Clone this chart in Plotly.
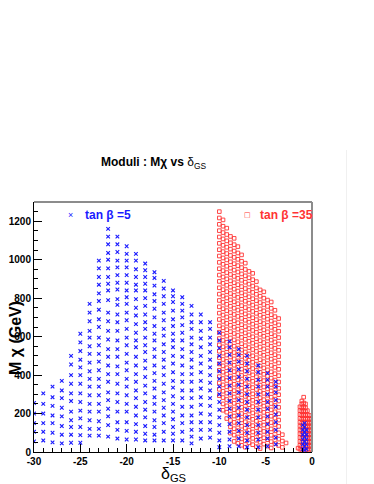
import plotly.graph_objects as go

# ---------------- data ----------------
# tan beta = 5 : columns of points (x position, list of M_chi values in GeV)
blue_cols_x = [-30, -29, -28, -27, -26, -25, -24, -23, -22, -21, -20, -19, -18, -17,
               -16, -15, -14, -13, -12, -11, -10, -8.9, -7.9, -7.0, -5.8, -4.8, -3.9,
               -1.0, -0.8, -0.6]
blue_cols_y = [
    [55, 105, 150, 200, 255],
    [60, 105, 150, 200, 250, 305],
    [50, 100, 150, 190, 240, 285, 340],
    [45, 90, 135, 185, 230, 280, 320, 370],
    [48, 90, 130, 165, 210, 265, 305, 355, 400, 455, 500],
    [48, 88, 130, 175, 215, 260, 305, 355, 400, 440, 480, 525, 570, 615],
    [85, 120, 165, 210, 250, 295, 340, 380, 420, 465, 510, 550, 595, 630, 680, 725, 770],
    [85, 120, 160, 210, 250, 295, 340, 380, 425, 470, 510, 555, 595, 650, 690, 740, 785,
     825, 870, 910, 955, 995],
    [80, 140, 185, 225, 270, 310, 365, 405, 450, 495, 535, 585, 630, 680, 725, 790, 840,
     875, 910, 955, 1000, 1035, 1080, 1120, 1160],
    [70, 115, 155, 210, 260, 305, 355, 405, 445, 495, 535, 580, 630, 675, 715, 765, 795,
     845, 880, 920, 960, 995, 1040, 1080, 1120],
    [65, 110, 155, 210, 250, 295, 340, 380, 425, 465, 510, 555, 595, 640, 685, 725, 770,
     805, 840, 880, 920, 960, 995, 1030, 1070],
    [65, 105, 145, 190, 235, 280, 320, 365, 405, 450, 495, 545, 580, 620, 665, 710, 750,
     795, 840, 870, 910, 950, 995, 1030],
    [60, 95, 135, 180, 220, 260, 305, 345, 390, 435, 475, 520, 555, 595, 640, 675, 715,
     760, 800, 840, 875, 910, 945, 980],
    [60, 90, 130, 165, 210, 250, 285, 330, 370, 410, 450, 495, 535, 580, 615, 655, 700,
     745, 785, 820, 865, 905, 935],
    [60, 105, 150, 190, 230, 270, 310, 355, 400, 440, 480, 520, 560, 605, 640, 685, 725,
     770, 810, 850, 890],
    [60, 95, 130, 170, 210, 250, 290, 335, 370, 415, 460, 500, 545, 580, 615, 655, 690,
     735, 780, 810, 840],
    [60, 105, 150, 190, 235, 280, 320, 365, 405, 450, 495, 535, 580, 620, 660, 700, 735,
     770, 805],
    [45, 80, 115, 155, 190, 235, 280, 320, 365, 405, 440, 480, 520, 560, 595, 640, 675,
     715, 760],
    [70, 115, 155, 200, 245, 285, 330, 370, 415, 460, 500, 545, 590, 630, 675, 715],
    [75, 115, 155, 195, 240, 280, 320, 360, 400, 440, 480, 520, 560, 595, 640, 675],
    [25, 60, 100, 140, 180, 220, 260, 300, 340, 380, 420, 460, 500, 540, 580, 620],
    [30, 65, 105, 145, 185, 225, 265, 305, 345, 385, 425, 465, 505, 545, 575],
    [30, 70, 110, 150, 190, 230, 270, 310, 350, 390, 430, 470, 505, 535],
    [25, 60, 100, 140, 180, 220, 260, 300, 340, 380, 420, 460, 500],
    [25, 65, 100, 140, 180, 220, 260, 300, 340, 375, 415, 450],
    [30, 70, 105, 145, 185, 225, 260, 300, 340, 375, 410],
    [40, 75, 115, 155, 195, 235, 270, 310, 340, 365],
    [15, 40, 65, 90, 115, 140],
    [10, 30, 55, 80, 105, 130, 150],
    [15, 40, 65, 90, 115],
]

# tan beta = 35 : diagonal bands of points on a grid of delta_GS values
red_grid_x = [-10.0, -9.6, -9.2, -8.8, -8.4, -8.0, -7.6, -7.2, -6.8, -6.4, -6.0, -5.6,
              -5.2, -4.8, -4.4, -4.0, -3.6, -3.2, -2.8]
red_band_start = [0, 0, 0, 0, 0, 0, 0, 0, 0, 0, 0, 0, 0, 0, 0, 0, 0, 0, 0, 0, 0, 0, 0,
                  0, 0, 0, 0, 0, 0, 0, 1, 1, 2, 3, 3, 4]
red_band_y = [
    [1250],
    [1217, 1207],
    [1184, 1174, 1164],
    [1151, 1141, 1131, 1121, 1111],
    [1118, 1108, 1098, 1088, 1078, 1068],
    [1085, 1075, 1065, 1055, 1045, 1035, 1025],
    [1052, 1042, 1032, 1022, 1012, 1002, 992, 982],
    [1019, 1009, 999, 989, 979, 969, 959, 949, 939, 929],
    [986, 976, 966, 956, 946, 936, 926, 916, 906, 896, 886],
    [953, 943, 933, 923, 913, 903, 893, 883, 873, 863, 853, 843, 833],
    [920, 910, 900, 890, 880, 870, 860, 850, 840, 830, 820, 810, 800, 790, 780],
    [887, 877, 867, 857, 847, 837, 827, 817, 807, 797, 787, 777, 767, 757, 747, 737],
    [854, 844, 834, 824, 814, 804, 794, 784, 774, 764, 754, 744, 734, 724, 714, 704, 694],
    [821, 811, 801, 791, 781, 771, 761, 751, 741, 731, 721, 711, 701, 691, 681, 671, 661],
    [788, 778, 768, 758, 748, 738, 728, 718, 708, 698, 688, 678, 668, 658, 648, 638, 628],
    [755, 745, 735, 725, 715, 705, 695, 685, 675, 665, 655, 645, 635, 625, 615, 605, 595],
    [722, 712, 702, 692, 682, 672, 662, 652, 642, 632, 622, 612, 602, 592, 582, 572, 562],
    [689, 679, 669, 659, 649, 639, 629, 619, 609, 599, 589, 579, 569, 559, 549, 539, 529],
    [656, 646, 636, 626, 616, 606, 596, 586, 576, 566, 556, 546, 536, 526, 516, 506, 496],
    [623, 613, 603, 593, 583, 573, 563, 553, 543, 533, 523, 513, 503, 493, 483, 473, 463],
    [590, 580, 570, 560, 550, 540, 530, 520, 510, 500, 490, 480, 470, 460, 450, 440, 430],
    [557, 547, 537, 527, 517, 507, 497, 487, 477, 467, 457, 447, 437, 427, 417, 407, 397],
    [524, 514, 504, 494, 484, 474, 464, 454, 444, 434, 424, 414, 404, 394, 384, 374, 364],
    [491, 481, 471, 461, 451, 441, 431, 421, 411, 401, 391, 381, 371, 361, 351, 341, 331],
    [458, 448, 438, 428, 418, 408, 398, 388, 378, 368, 358, 348, 338, 328, 318, 308, 298],
    [425, 415, 405, 395, 385, 375, 365, 355, 345, 335, 325, 315, 305, 295, 285, 275, 265],
    [392, 382, 372, 362, 352, 342, 332, 322, 312, 302, 292, 282, 272, 262, 252, 242, 232],
    [359, 349, 339, 329, 319, 309, 299, 289, 279, 269, 259, 249, 239, 229, 219, 209, 199],
    [326, 316, 306, 296, 286, 276, 266, 256, 246, 236, 226, 216, 206, 196, 186, 176, 166],
    [293, 283, 273, 263, 253, 243, 233, 223, 213, 203, 193, 183, 173, 163, 153, 143, 133],
    [250, 240, 230, 220, 210, 200, 190, 180, 170, 160, 150, 140, 130, 120, 110, 100, 90],
    [217, 207, 197, 187, 177, 167, 157, 147, 137, 127, 117, 107, 97, 87, 77, 67, 57, 47],
    [174, 164, 154, 144, 134, 124, 114, 104, 94, 84, 74, 64, 54, 44, 34, 24],
    [131, 121, 111, 101, 91, 81, 71, 61, 51, 41, 31, 21],
    [98, 88, 78, 68, 58, 48, 38, 28, 18],
    [55, 45, 35, 25],
]
# tan beta = 35 : cluster close to delta_GS = 0
red_zero_x = [-1.5, -1.3, -1.1, -0.9, -0.7, -0.5, -0.3, -0.1]
red_zero_y = [
    [20],
    [15, 35, 55, 75, 95, 115, 135, 155, 175, 195, 215, 235],
    [10, 30, 50, 70, 90, 110, 130, 150, 170, 190, 210, 230, 250, 265],
    [15, 35, 55, 75, 95, 115, 135, 155, 175, 195, 215, 235, 255, 285],
    [10, 30, 50, 70, 90, 110, 130, 150, 170, 190, 210, 230, 250],
    [15, 35, 55, 75, 95, 115, 135, 155, 175, 195, 215],
    [10, 30, 50, 70, 90, 110, 130, 150, 170, 190],
    [15, 35, 55, 75, 95, 115, 135, 155, 175],
]

x_ticks = [-30, -25, -20, -15, -10, -5, 0]
y_ticks = [0, 200, 400, 600, 800, 1000, 1200]
series_labels = ["tan β =5", "tan β =35"]

# ---------------- assemble ----------------
bx, by = [], []
for x, ys in zip(blue_cols_x, blue_cols_y):
    bx += [x] * len(ys)
    by += ys

rx, ry = [], []
for s, ys in zip(red_band_start, red_band_y):
    rx += red_grid_x[s:s + len(ys)]
    ry += ys
for x, ys in zip(red_zero_x, red_zero_y):
    rx += [x] * len(ys)
    ry += ys

FONT = "Liberation Sans, Arial, Helvetica, sans-serif"
BLUE = "#1a1aff"
RED = "#ff3333"

# the page body has an 8px margin: lay the figure out in screen pixels minus 8
OFF = 8
W, H = 374 - OFF, 484 - OFF
PL, PR, PT, PB = 34, 312, 202, 452          # plot box in screen pixels
L, T = PL - OFF, PT - OFF
R, B = W - (PR - OFF), H - (PB - OFF)
pw, ph = PR - PL, PB - PT


def px2paper_x(p):
    return (p - PL) / pw


def px2paper_y(p):
    return (PB - p) / ph


fig = go.Figure()
fig.add_trace(go.Scatter(
    x=rx, y=ry, mode="markers", name=series_labels[1], showlegend=False,
    marker=dict(symbol="square-open", size=3.6, color=RED,
                line=dict(width=0.9, color=RED)),
))
fig.add_trace(go.Scatter(
    x=bx, y=by, mode="markers", name=series_labels[0], showlegend=False,
    marker=dict(symbol="x-thin", size=3.6, color=BLUE,
                line=dict(width=1.1, color=BLUE)),
))

axis_common = dict(
    showline=True, linecolor="black", linewidth=1, showgrid=False, zeroline=False,
    ticks="inside", ticklen=8, tickcolor="black", tickwidth=1, automargin=False,
    tickfont=dict(family=FONT, size=10, color="black", weight="bold"),
)
fig.update_xaxes(range=[-30, 0], tickvals=x_ticks, ticktext=[str(v) for v in x_ticks],
                 minor=dict(dtick=1, tick0=0, ticks="inside", ticklen=4, tickcolor="black"),
                 **axis_common)
fig.update_yaxes(range=[0, 1300], tickvals=y_ticks, ticktext=[str(v) for v in y_ticks],
                 minor=dict(dtick=50, tick0=0, ticks="inside", ticklen=4, tickcolor="black"),
                 **axis_common)

annotations = [
    dict(text="<b>Moduli : Mχ vs </b>δ<sub>GS</sub>",
         x=px2paper_x(153), y=px2paper_y(163), xanchor="center",
         font=dict(family=FONT, size=12, color="black")),
    dict(text="δ<sub>GS</sub>",
         x=px2paper_x(173), y=px2paper_y(474), xanchor="center",
         font=dict(family=FONT, size=16, color="black")),
    dict(text="<b>M χ (GeV)</b>", textangle=-90,
         x=px2paper_x(15), y=px2paper_y(338), xanchor="center",
         font=dict(family=FONT, size=16, color="black")),
    # legend entries
    dict(text="×", x=px2paper_x(70), y=px2paper_y(215), xanchor="center",
         font=dict(family=FONT, size=9, color=BLUE)),
    dict(text="<b>" + series_labels[0] + "</b>", x=px2paper_x(83), y=px2paper_y(215),
         xanchor="left", font=dict(family=FONT, size=12, color=BLUE)),
    dict(text="□", x=px2paper_x(247), y=px2paper_y(215), xanchor="center",
         font=dict(family="DejaVu Sans", size=7, color=RED)),
    dict(text="<b>" + series_labels[1] + "</b>", x=px2paper_x(258), y=px2paper_y(215),
         xanchor="left", font=dict(family=FONT, size=12, color=RED)),
]
for a in annotations:
    a.update(xref="paper", yref="paper", yanchor="middle", showarrow=False)

fig.update_layout(
    width=W, height=H, margin=dict(l=L, r=R, t=T, b=B, pad=0, autoexpand=False),
    paper_bgcolor="white", plot_bgcolor="white",
    font=dict(family=FONT),
    showlegend=False,
    shapes=[
        dict(type="line", xref="paper", yref="paper", x0=0, x1=1, y0=1, y1=1,
             line=dict(color="#8c8c8c", width=2)),
        dict(type="line", xref="paper", yref="paper", x0=1, x1=1, y0=0, y1=1,
             line=dict(color="#8c8c8c", width=2)),
        dict(type="line", xref="paper", yref="paper",
             x0=px2paper_x(346.5), x1=px2paper_x(346.5),
             y0=px2paper_y(150), y1=px2paper_y(484),
             line=dict(color="#f0f0f0", width=1)),
    ],
    annotations=annotations,
)

fig.write_html("out.html")
